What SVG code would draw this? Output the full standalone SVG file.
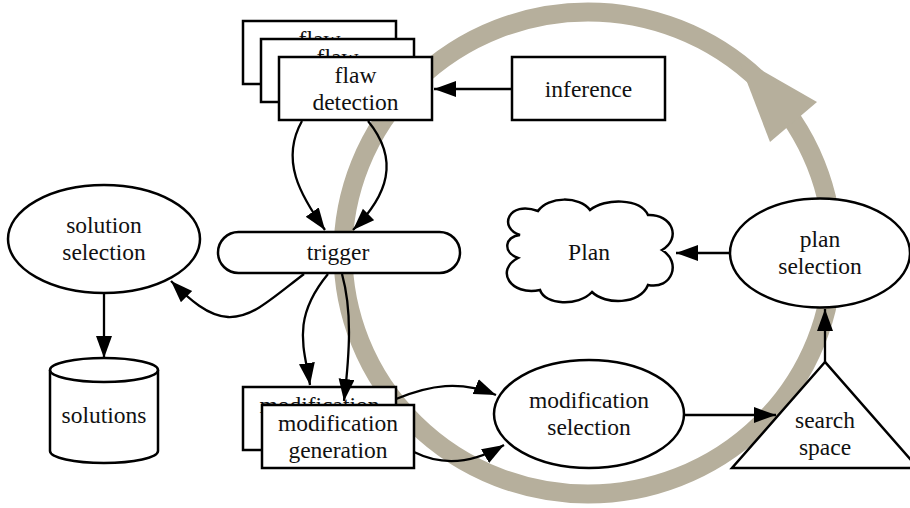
<svg xmlns="http://www.w3.org/2000/svg" width="910" height="508" viewBox="0 0 910 508" font-family="'Liberation Serif', 'DejaVu Serif', serif">
<style>
.n{fill:#fff;stroke:#000;stroke-width:2.5}
.t{font-family:'Liberation Serif','DejaVu Serif',serif;font-size:23.5px;fill:#111;text-anchor:middle}
.e{fill:none;stroke:#000;stroke-width:2.3}
</style>
<defs>
<marker id="ah" markerUnits="userSpaceOnUse" markerWidth="24" markerHeight="18" refX="22" refY="8" orient="auto">
<path d="M0,0 L22,8 L0,16 Z" fill="#000"/>
</marker>
</defs>
<rect width="910" height="508" fill="#fff"/>
<g id="cycle">
<ellipse cx="588" cy="253" rx="245" ry="241" fill="none" stroke="#b6af9c" stroke-width="19"/>
<polygon points="737,56 817,102 770,142" fill="#b6af9c"/>
</g>
<g id="flaw-detection">
<rect class="n" x="243" y="21" width="153" height="63"/>
<text class="t" x="319.5" y="47">flaw</text>
<rect class="n" x="261" y="39" width="153" height="63"/>
<text class="t" x="337.5" y="65">flaw</text>
<rect class="n" x="279" y="57" width="153" height="63"/>
<text class="t" x="355.5" y="83">flaw</text>
<text class="t" x="355.5" y="110">detection</text>
</g>
<g id="inference">
<rect class="n" x="512" y="57" width="153" height="63"/>
<text class="t" x="588.5" y="97">inference</text>
</g>
<g id="trigger">
<rect class="n" x="218" y="232" width="242" height="41" rx="20.5"/>
<text class="t" x="338" y="260">trigger</text>
</g>
<g id="solution-selection">
<ellipse class="n" cx="104" cy="239" rx="96" ry="54"/>
<text class="t" x="104" y="233">solution</text>
<text class="t" x="104" y="260">selection</text>
</g>
<g id="solutions">
<path class="n" d="M50,370 L50,451 A54,12 0 0 0 158,451 L158,370"/>
<ellipse class="n" cx="104" cy="370" rx="54" ry="12"/>
<text class="t" x="104" y="423">solutions</text>
</g>
<g id="plan">
<path class="n" d="M520,235 C498,228 508,200 538,211 C548,196 580,196 590,210 C605,198 640,198 648,215 C672,214 682,238 662,250 C682,262 672,290 648,285 C640,305 605,305 592,292 C578,307 545,305 540,290 C510,296 495,270 518,258 C502,252 505,236 520,235 Z"/>
<text class="t" x="589" y="260">Plan</text>
</g>
<g id="plan-selection">
<ellipse class="n" cx="820" cy="253" rx="90" ry="54.5"/>
<text class="t" x="820" y="247">plan</text>
<text class="t" x="820" y="274">selection</text>
</g>
<g id="modification-generation">
<rect class="n" x="243" y="387" width="153" height="63"/>
<text class="t" x="319.5" y="413">modification</text>
<rect class="n" x="262" y="405" width="152" height="63"/>
<text class="t" x="338" y="431">modification</text>
<text class="t" x="338" y="458">generation</text>
</g>
<g id="modification-selection">
<ellipse class="n" cx="589" cy="414" rx="95" ry="54"/>
<text class="t" x="589" y="408">modification</text>
<text class="t" x="589" y="435">selection</text>
</g>
<g id="search-space">
<polygon class="n" points="825,362 732,468 918,468"/>
<text class="t" x="825" y="428">search</text>
<text class="t" x="825" y="455">space</text>
</g>
<g id="connectors">
<path class="e" marker-end="url(#ah)" d="M512,89 L434,89"/>
<path class="e" marker-end="url(#ah)" d="M302,121 C280,160 300,195 325,230"/>
<path class="e" marker-end="url(#ah)" d="M368,121 C400,160 388,195 353,230"/>
<path class="e" marker-end="url(#ah)" d="M304,274 C270,300 252,318 228,317 C208,316 190,300 171,281"/>
<path class="e" marker-end="url(#ah)" d="M328,274 C290,320 305,350 310,385"/>
<path class="e" marker-end="url(#ah)" d="M342,274 C352,310 350,350 344,401"/>
<path class="e" marker-end="url(#ah)" d="M104,293 L104,358"/>
<path class="e" marker-end="url(#ah)" d="M396,399 C430,385 460,380 496,395"/>
<path class="e" marker-end="url(#ah)" d="M414,452 C440,465 470,465 504,445"/>
<path class="e" marker-end="url(#ah)" d="M684,415 L776,415"/>
<path class="e" marker-end="url(#ah)" d="M825,362 L825,309"/>
<path class="e" marker-end="url(#ah)" d="M730,253 L676,253"/>
</g>
</svg>
